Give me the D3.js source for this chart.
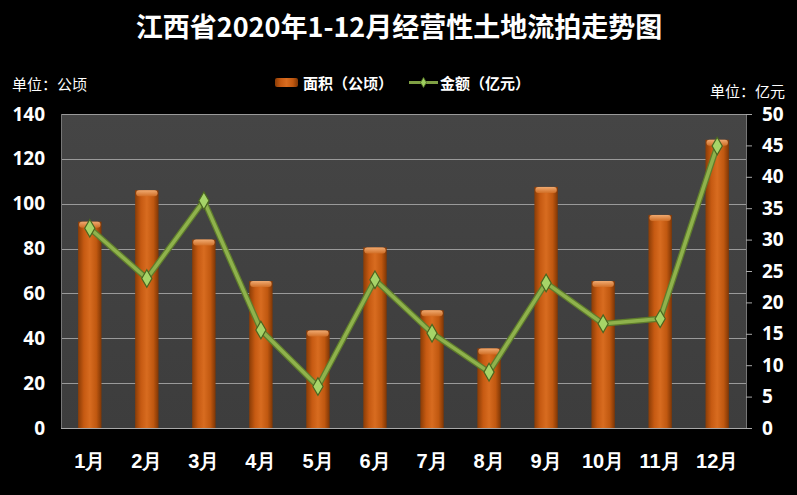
<!DOCTYPE html>
<html>
<head>
<meta charset="utf-8">
<script src="https://cdn.jsdelivr.net/npm/d3@7"></script>
<style>
  html, body { margin: 0; padding: 0; background: #000; }
  svg { display: block; font-family: "Noto Sans CJK SC", "Noto Sans", sans-serif; }
</style>
</head>
<body>
<svg id="chart" width="797" height="495"></svg>
<script>
// chart data
const months = ['1月', '2月', '3月', '4月', '5月', '6月', '7月', '8月', '9月', '10月', '11月', '12月']
const areaValues = [92, 106, 84, 65.5, 43.5, 80.5, 52.5, 35.5, 107.5, 65.5, 95, 128.5]
const amountValues = [31.8, 23.8, 36.2, 15.6, 6.6, 23.6, 15.1, 8.9, 23.1, 16.6, 17.4, 44.9]
const leftTicks = [0, 20, 40, 60, 80, 100, 120, 140]
const rightTicks = [0, 5, 10, 15, 20, 25, 30, 35, 40, 45, 50]

const svg = d3.select('#chart')
const plot = { left: 61, right: 746, top: 114, bottom: 428 }

const x = d3.scaleBand().domain(months).range([plot.left, plot.right]).paddingInner(0.59).paddingOuter(0.3)
const yLeft = d3.scaleLinear().domain([0, 140]).range([plot.bottom, plot.top])
const yRight = d3.scaleLinear().domain([0, 50]).range([plot.bottom, plot.top])

const defs = svg.append('defs')
const barGrad = defs.append('linearGradient').attr('id', 'barGrad').attr('x1', 0).attr('x2', 1).attr('y1', 0).attr('y2', 0)
barGrad.append('stop').attr('offset', '0%').attr('stop-color', '#8a3c06')
barGrad.append('stop').attr('offset', '25%').attr('stop-color', '#c65a12')
barGrad.append('stop').attr('offset', '50%').attr('stop-color', '#d86c20')
barGrad.append('stop').attr('offset', '78%').attr('stop-color', '#c05810')
barGrad.append('stop').attr('offset', '100%').attr('stop-color', '#7e3605')

const capGrad = defs.append('linearGradient').attr('id', 'capGrad').attr('x1', 0).attr('x2', 0).attr('y1', 0).attr('y2', 1)
capGrad.append('stop').attr('offset', '0%').attr('stop-color', '#f4b27a')
capGrad.append('stop').attr('offset', '100%').attr('stop-color', '#d27028')

const bgGrad = defs.append('linearGradient').attr('id', 'bgGrad').attr('x1', 0).attr('x2', 0).attr('y1', 0).attr('y2', 1)
bgGrad.append('stop').attr('offset', '0%').attr('stop-color', '#454545')
bgGrad.append('stop').attr('offset', '100%').attr('stop-color', '#3d3d3d')

// title
svg.append('text')
    .attr('x', 399).attr('y', 37)
    .attr('text-anchor', 'middle')
    .attr('fill', '#fff').attr('font-size', 27).attr('font-weight', 'bold')
    .text('江西省2020年1-12月经营性土地流拍走势图')

// unit labels
svg.append('text').attr('x', 12).attr('y', 90).attr('fill', '#fff').attr('font-size', 15).text('单位：公顷')
svg.append('text').attr('x', 785).attr('y', 97).attr('text-anchor', 'end').attr('fill', '#fff').attr('font-size', 15).text('单位：亿元')

// legend
const legend = svg.append('g')
legend.append('rect').attr('x', 275).attr('y', 78).attr('width', 23).attr('height', 9).attr('rx', 2).attr('fill', 'url(#barGrad)')
legend.append('text').attr('x', 303).attr('y', 89).attr('fill', '#fff').attr('font-size', 15).attr('font-weight', 'bold').text('面积（公顷）')
legend.append('line').attr('x1', 409).attr('x2', 438).attr('y1', 82.5).attr('y2', 82.5).attr('stroke', '#7fa044').attr('stroke-width', 3)
legend.append('path').attr('d', d3.symbol(d3.symbolDiamond, 30)()).attr('transform', 'translate(423.5,82.5)')
    .attr('fill', '#9fd060').attr('stroke', '#4d6a22').attr('stroke-width', 0.8)
legend.append('text').attr('x', 440).attr('y', 89).attr('fill', '#fff').attr('font-size', 15).attr('font-weight', 'bold').text('金额（亿元）')

// plot background
svg.append('rect')
    .attr('x', plot.left).attr('y', plot.top)
    .attr('width', plot.right - plot.left).attr('height', plot.bottom - plot.top)
    .attr('fill', 'url(#bgGrad)')

// gridlines
svg.append('g').selectAll('line')
    .data(leftTicks.filter(d => d > 0))
    .join('line')
    .attr('x1', plot.left).attr('x2', plot.right)
    .attr('y1', d => Math.round(yLeft(d)) + 0.5).attr('y2', d => Math.round(yLeft(d)) + 0.5)
    .attr('stroke', '#9a9a9a').attr('stroke-width', 1)

// bottom axis line and plot edges
svg.append('line').attr('x1', plot.left).attr('x2', plot.right).attr('y1', plot.bottom + 0.5).attr('y2', plot.bottom + 0.5).attr('stroke', '#a8a8a8')
svg.append('line').attr('x1', plot.left + 0.5).attr('x2', plot.left + 0.5).attr('y1', plot.top).attr('y2', plot.bottom).attr('stroke', '#777')
svg.append('line').attr('x1', plot.right + 0.5).attr('x2', plot.right + 0.5).attr('y1', plot.top).attr('y2', plot.bottom).attr('stroke', '#777')

// left axis
const leftAxis = svg.append('g')
    .attr('transform', `translate(${plot.left},0)`)
    .call(d3.axisLeft(yLeft).tickValues(leftTicks).tickSize(0).tickPadding(16))
leftAxis.select('.domain').remove()
leftAxis.selectAll('text').attr('fill', '#fff').attr('font-size', 19).attr('font-weight', 'bold')
    .attr('font-family', '"Open Sans", "DejaVu Sans", sans-serif')

// right axis
const rightAxis = svg.append('g')
    .attr('transform', `translate(${plot.right},0)`)
    .call(d3.axisRight(yRight).tickValues(rightTicks).tickSize(6).tickPadding(10))
rightAxis.select('.domain').remove()
rightAxis.selectAll('line').attr('stroke', '#aaa')
rightAxis.selectAll('text').attr('fill', '#fff').attr('font-size', 19).attr('font-weight', 'bold')
    .attr('font-family', '"Open Sans", "DejaVu Sans", sans-serif')

// bottom axis labels
const bottomAxis = svg.append('g')
    .attr('transform', `translate(0,${plot.bottom})`)
    .call(d3.axisBottom(x).tickSize(0).tickPadding(26))
bottomAxis.select('.domain').remove()
bottomAxis.selectAll('text').attr('fill', '#fff').attr('font-size', 20).attr('font-weight', 'bold')

// bars
const bars = svg.append('g')
bars.selectAll('rect.bar')
    .data(months)
    .join('rect')
    .attr('class', 'bar')
    .attr('x', d => x(d))
    .attr('y', (d, i) => yLeft(areaValues[i]))
    .attr('width', x.bandwidth())
    .attr('height', (d, i) => plot.bottom - yLeft(areaValues[i]))
    .attr('fill', 'url(#barGrad)')
bars.selectAll('rect.cap')
    .data(months)
    .join('rect')
    .attr('class', 'cap')
    .attr('x', d => x(d) + 1)
    .attr('y', (d, i) => yLeft(areaValues[i]))
    .attr('width', x.bandwidth() - 2)
    .attr('height', 6)
    .attr('rx', 3)
    .attr('fill', 'url(#capGrad)')
    .attr('opacity', 0.9)

// line series
const cx = d => x(d) + x.bandwidth() / 2
const line = d3.line().x(d => cx(d)).y((d, i) => yRight(amountValues[i]))
svg.append('path').datum(months)
    .attr('d', line)
    .attr('fill', 'none')
    .attr('stroke', '#5f7d2c').attr('stroke-width', 6).attr('stroke-linejoin', 'round')
svg.append('path').datum(months)
    .attr('d', line)
    .attr('fill', 'none')
    .attr('stroke', '#8fb24c').attr('stroke-width', 3.5).attr('stroke-linejoin', 'round')

svg.append('g').selectAll('path')
    .data(months)
    .join('path')
    .attr('d', d3.symbol(d3.symbolDiamond, 90)())
    .attr('transform', (d, i) => `translate(${cx(d)},${yRight(amountValues[i])})`)
    .attr('fill', '#a6d468').attr('stroke', '#4a6620').attr('stroke-width', 1.2)
</script>
</body>
</html>
